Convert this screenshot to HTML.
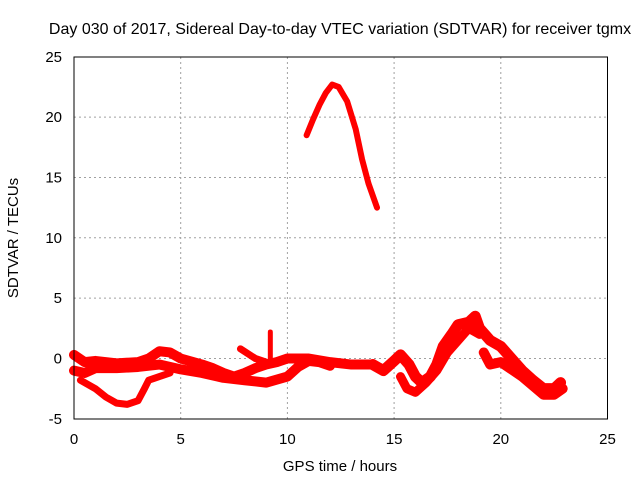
<!DOCTYPE html>
<html><head><meta charset="utf-8"><style>
body{margin:0;background:#fff}
svg{font-family:"Liberation Sans",sans-serif;font-size:15px}
</style></head><body>
<svg id="c" width="640" height="480">
<text x="340" y="34" text-anchor="middle" font-size="16">Day 030 of 2017, Sidereal Day-to-day VTEC variation (SDTVAR) for receiver tgmx</text>
<text x="340" y="471" text-anchor="middle">GPS time / hours</text>
<text transform="translate(18,238) rotate(-90)" text-anchor="middle">SDTVAR / TECUs</text>
<g id="grid"></g><g id="ticks"></g><g id="data"></g>
<rect x="74" y="57" width="533.5" height="362" fill="none" stroke="#000" stroke-width="1"/>
</svg>
<script>
const xTicks=[0,5,10,15,20,25];
const yTicks=[-5,0,5,10,15,20,25];
const track1=[[0,0.3],[0.5,-0.3],[1,-0.2],[2,-0.4],[3,-0.3],[3.5,0],[4,0.6],[4.5,0.5],[5,0],[6,-0.5],[6.5,-0.8],[7,-1.2],[7.5,-1.5],[8,-1.2],[8.5,-0.8],[9,-0.5],[9.5,-0.3],[10,0],[11,0],[12,-0.3],[13,-0.5],[14,-0.5]];
const track2=[[0,-1],[0.5,-1.2],[1,-0.8],[2,-0.8],[3,-0.7],[4,-0.5],[5,-0.9],[6,-1.2],[7,-1.6],[8,-1.8],[9,-2],[10,-1.5],[10.5,-0.7],[11,-0.2],[11.5,-0.3],[12,-0.6]];
const track3=[[0.3,-1.8],[1,-2.5],[1.5,-3.2],[2,-3.7],[2.5,-3.8],[3,-3.5],[3.3,-2.5],[3.5,-1.8],[4,-1.5],[4.5,-1.2]];
const track4=[[7.8,0.8],[8.5,0],[9,-0.3]];
const spike=[[9.2,-0.4],[9.2,2.2]];
const track5=[[14,-0.5],[14.5,-1],[15,-0.2],[15.3,0.3],[15.7,-0.5],[16,-1.5],[16.3,-2],[16.7,-1.5],[17,-0.5],[17.3,1],[17.7,2],[18,2.8],[18.5,3],[18.8,3.5],[19,2.5],[19.5,1.5],[20,1],[20.5,0],[21,-1],[21.5,-1.8],[22,-2.5],[22.5,-2.5],[22.8,-2]];
const track6=[[15.3,-1.5],[15.6,-2.5],[16,-2.8],[16.5,-2],[17,-1],[17.5,0.5],[18,1.5],[18.5,2.5],[19,2]];
const track7=[[19.2,0.5],[19.5,-0.5],[20,-0.3],[21,-1.5],[22,-3],[22.5,-3],[22.9,-2.5]];
const arc=[[10.9,18.5],[11.2,19.8],[11.5,21],[11.8,22],[12.1,22.7],[12.4,22.5],[12.8,21.3],[13.2,19],[13.5,16.5],[13.8,14.5],[14.2,12.5]];
const NS="http://www.w3.org/2000/svg";
const X=v=>74+v*21.34, Y=v=>358.5-v*12.07;
const grid=document.getElementById('grid'),ticks=document.getElementById('ticks'),data=document.getElementById('data');
function mk(t,a,p){const e=document.createElementNS(NS,t);for(const k in a)e.setAttribute(k,a[k]);p.appendChild(e);return e;}
xTicks.forEach(t=>{
 if(t>0&&t<25){const g=mk('line',{x1:X(t),x2:X(t),y1:57,y2:419,stroke:'#a0a0a0','stroke-dasharray':'2,3'},grid);
 
 }
 const l=mk('text',{x:X(t),y:444,'text-anchor':'middle'},ticks);l.textContent=t;
 
 
});
yTicks.forEach(t=>{
 if(t>-5&&t<25){const g=mk('line',{x1:74,x2:607,y1:Y(t),y2:Y(t),stroke:'#a0a0a0','stroke-dasharray':'2,3'},grid);
 
 }
 const l=mk('text',{x:62,y:Y(t)+5,'text-anchor':'end'},ticks);l.textContent=t;
 
 
});
function series(pts,w,name){
 const p=mk('polyline',{points:pts.map(q=>X(q[0])+','+Y(q[1])).join(' '),fill:'none',stroke:'#ff0000','stroke-width':w,'stroke-linejoin':'round','stroke-linecap':'round'},data);
 
 
}
series(track1,10,'series-track-1');
series(track2,10,'series-track-2');
series(track3,7,'series-track-3');
series(track4,7,'series-track-4');
series(spike,5,'series-spike');
series(track5,11,'series-track-5');
series(track6,9,'series-track-6');
series(track7,10,'series-track-7');
series(arc,6,'series-arc');
</script>
</body></html>
